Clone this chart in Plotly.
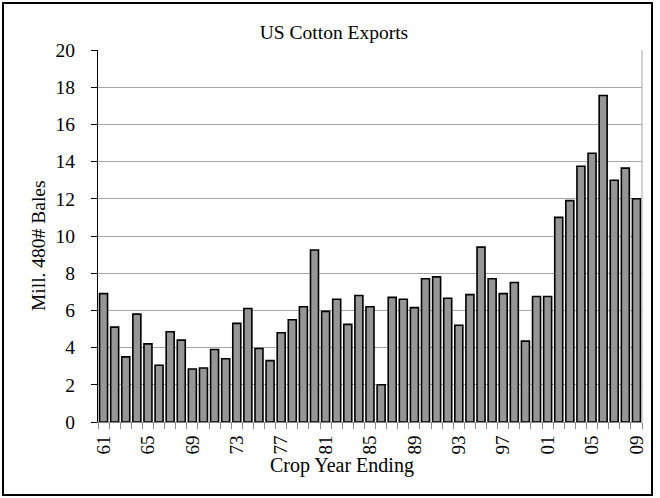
import plotly.graph_objects as go

years = [str(y % 100).zfill(2) for y in range(1961, 2010)]
exports = [6.9, 5.1, 3.5, 5.8, 4.2, 3.05, 4.85, 4.4, 2.85, 2.9,
           3.9, 3.4, 5.3, 6.1, 3.95, 3.3, 4.8, 5.5, 6.2, 9.25,
           5.95, 6.6, 5.25, 6.8, 6.2, 2.0, 6.7, 6.6, 6.15, 7.7,
           7.8, 6.65, 5.2, 6.85, 9.4, 7.7, 6.9, 7.5, 4.35, 6.75,
           6.75, 11.0, 11.9, 13.75, 14.45, 17.55, 13.0, 13.65, 12.0]
tick_labels = [y if i % 4 == 0 else "" for i, y in enumerate(years)]

FONT = "Liberation Serif, Times New Roman, serif"

fig = go.Figure(go.Bar(
    x=years, y=exports,
    marker=dict(color="#969696", line=dict(color="black", width=1.6)),
))

L, R, T, B = 98, 18, 50, 76
W, H = 660, 498
pw, ph = W - L - R, H - T - B

def px(x):
    return (x - L) / pw

def py(y):
    return (H - B - y) / ph

fig.update_layout(
    width=W, height=H,
    margin=dict(l=L, r=R, t=T, b=B, autoexpand=False),
    paper_bgcolor="white", plot_bgcolor="white",
    font=dict(family=FONT, size=19, color="black"),
    bargap=0.28,
    showlegend=False,
    title=dict(text="US Cotton Exports", x=334 / W, xanchor="center", xref="container",
               y=1 - 32 / H, yanchor="middle", yref="container", font=dict(size=19.5)),
    xaxis=dict(
        type="category",
        tickmode="array", tickvals=years, ticktext=tick_labels,
        tickangle=-90, tickson="boundaries",
        ticks="outside", ticklen=6, tickcolor="#888888",
        showline=True, linecolor="#888888", linewidth=1,
        showgrid=False,
        ticklabelstandoff=5,
        title=dict(text=""),
        tickfont=dict(size=19),
    ),
    yaxis=dict(
        range=[0, 20], dtick=2,
        ticks="outside", ticklen=6, tickcolor="black",
        showline=True, linecolor="black", linewidth=1.2,
        showgrid=True, gridcolor="#a6a6a6", gridwidth=1,
        ticklabelstandoff=12,
        title=dict(text=""),
        tickfont=dict(size=19.5),
    ),
    annotations=[
        dict(text="Crop Year Ending", xref="paper", yref="paper",
             x=px(342), y=py(466), xanchor="center", yanchor="middle",
             showarrow=False, font=dict(size=20)),
        dict(text="Mill. 480# Bales", xref="paper", yref="paper",
             x=px(38), y=py(246), xanchor="center", yanchor="middle",
             textangle=-90, showarrow=False, font=dict(size=19.5)),
    ],
    shapes=[
        dict(type="line", xref="paper", yref="paper", x0=1, x1=1, y0=0, y1=1,
             line=dict(color="#a6a6a6", width=1)),
        dict(type="rect", xref="paper", yref="paper",
             x0=px(3), x1=px(652), y0=py(3), y1=py(495),
             line=dict(color="black", width=2), layer="above"),
    ],
)

fig.write_html("out.html", config={"displayModeBar": False},
               post_script="document.body.style.margin='0';")
